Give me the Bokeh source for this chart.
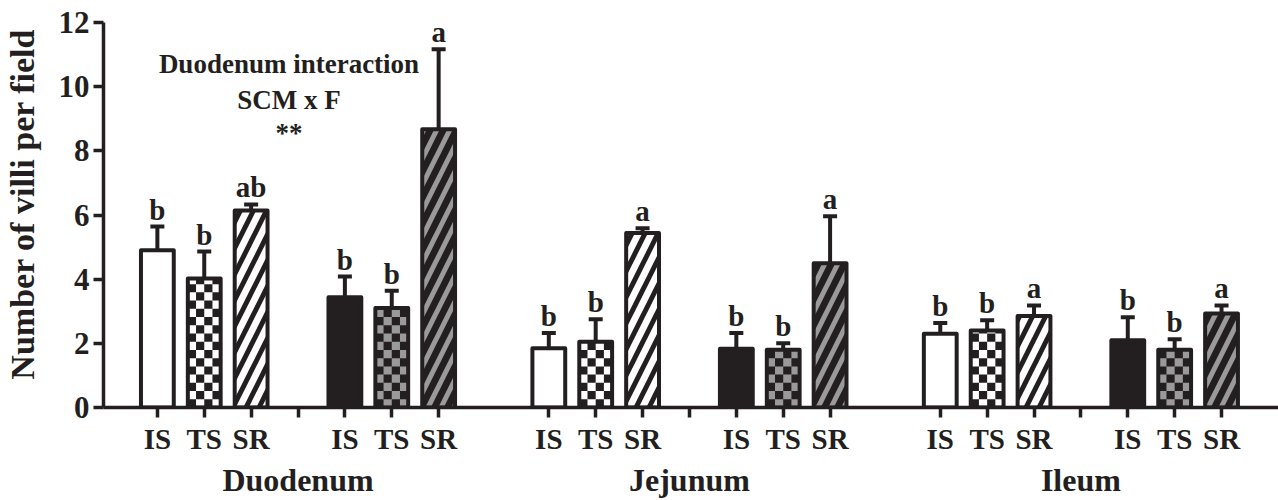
from bokeh.plotting import figure
from bokeh.models import Range1d, FixedTicker, LinearAxis, Whisker, ColumnDataSource, TeeHead
from bokeh.core.properties import value
from bokeh.embed import file_html
from bokeh.resources import INLINE

# ---------------- data ----------------
segments = ["Duodenum", "Jejunum", "Ileum"]
treatments = ["IS", "TS", "SR"]
# six bars per segment: IS, TS, SR (light set) then IS, TS, SR (dark set)
duodenum_mean = [4.90, 4.02, 6.14, 3.44, 3.10, 8.67]
duodenum_err = [0.74, 0.84, 0.19, 0.64, 0.54, 2.50]
jejunum_mean = [1.85, 2.05, 5.44, 1.83, 1.80, 4.50]
jejunum_err = [0.47, 0.70, 0.15, 0.49, 0.20, 1.46]
ileum_mean = [2.30, 2.40, 2.85, 2.10, 1.80, 2.93]
ileum_err = [0.33, 0.32, 0.33, 0.71, 0.33, 0.25]
duodenum_letters = ["b", "b", "ab", "b", "b", "a"]
jejunum_letters = ["b", "b", "a", "b", "b", "a"]
ileum_letters = ["b", "b", "a", "b", "b", "a"]
y_ticks = [0, 2, 4, 6, 8, 10, 12]
y_label = "Number of villi per field"
note_lines = ["Duodenum interaction", "SCM x F", "**"]
note_y = [10.7, 9.6, 8.55]

means = [duodenum_mean, jejunum_mean, ileum_mean]
errs = [duodenum_err, jejunum_err, ileum_err]
letters = [duodenum_letters, jejunum_letters, ileum_letters]

# ---------------- layout ----------------
DARK = "#231f20"
GREY = "#9a9a9a"
FONT = "Liberation Serif"
SLOT = 100
SEG = 835
slot_idx = [0, 1, 2, 4, 5, 6]
BW = 70
X0, X1 = -114.9, 2391.5
Y1 = 12.686
FRAME_W, FRAME_H = 1178, 407

xs, tops, uppers, labs, kinds = [], [], [], [], []
kind_cycle = ["white", "checker_w", "stripe_w", "black", "checker_g", "stripe_g"]
for g in range(3):
    for k in range(6):
        xs.append(g * SEG + slot_idx[k] * SLOT)
        tops.append(means[g][k])
        uppers.append(means[g][k] + errs[g][k])
        labs.append(letters[g][k])
        kinds.append(kind_cycle[k])

gap_ticks = [g * SEG + 3 * SLOT for g in range(3)]

p = figure(width=1278, height=500, output_backend="svg", toolbar_location=None,
           x_range=Range1d(X0, X1), y_range=Range1d(0, Y1),
           min_border_left=100, min_border_right=0, min_border_top=0, min_border_bottom=10)
p.outline_line_color = None
p.grid.visible = False
p.background_fill_color = "white"

# base bars
fill_map = {"white": "white", "checker_w": "white", "stripe_w": "white",
            "black": DARK, "checker_g": GREY, "stripe_g": DARK}
for kind in kind_cycle:
    sel = [i for i in range(len(xs)) if kinds[i] == kind]
    src = ColumnDataSource(dict(x=[xs[i] for i in sel], top=[tops[i] for i in sel]))
    kw = {}
    if kind == "stripe_w":
        kw = dict(hatch_pattern="right_diagonal_line", hatch_color=DARK, hatch_weight=5, hatch_scale=26)
    elif kind == "stripe_g":
        kw = dict(hatch_pattern="right_diagonal_line", hatch_color=GREY, hatch_weight=5, hatch_scale=26)
    p.vbar(x="x", top="top", bottom=0, width=BW, source=src, fill_color=fill_map[kind],
           line_color=None, **kw)

# checker cells (derived from bar values)
px_per_x = FRAME_W / (X1 - X0)
px_per_y = FRAME_H / Y1
ncols = 4
col_w = BW / ncols
row_h = col_w * px_per_x / px_per_y
cl, cr, cb, ct = [], [], [], []
for i in range(len(xs)):
    if kinds[i] not in ("checker_w", "checker_g"):
        continue
    left0 = xs[i] - BW / 2
    r = 0
    while r * row_h < tops[i]:
        for c in range(ncols):
            if (r + c) % 2 == 0:
                cl.append(left0 + c * col_w)
                cr.append(left0 + (c + 1) * col_w)
                cb.append(r * row_h)
                ct.append(min((r + 1) * row_h, tops[i]))
        r += 1
p.quad(left=cl, right=cr, bottom=cb, top=ct, fill_color=DARK, line_color=None)

# bar outlines
p.vbar(x=xs, top=tops, bottom=0, width=BW, fill_alpha=0, line_color=DARK,
       line_width=4, line_join="round")

# error bars
esrc = ColumnDataSource(dict(x=xs, lower=tops, upper=uppers, lab=labs))
p.add_layout(Whisker(base="x", lower="lower", upper="upper", source=esrc,
                     line_color=DARK, line_width=4,
                     upper_head=TeeHead(size=14, line_width=4, line_color=DARK),
                     lower_head=None))

# significance letters
p.text(x="x", y="upper", text="lab", source=esrc, text_font=value(FONT),
       text_font_style="bold", text_font_size="29px", text_color=DARK,
       text_align="center", text_baseline="alphabetic", y_offset=-17)

# interaction note
p.text(x=[gap_ticks[0]] * 3, y=note_y, text=note_lines, text_font=value(FONT),
       text_font_style="bold", text_font_size="27px", text_color=DARK,
       text_align="center", text_baseline="middle", x_offset=-9)

# y axis
ya = p.yaxis[0]
ya.ticker = FixedTicker(ticks=y_ticks)
ya.bounds = (0, 12)
ya.axis_label = y_label
ya.axis_label_text_font = FONT
ya.axis_label_text_font_style = "bold"
ya.axis_label_text_font_size = "34px"
ya.axis_label_text_color = DARK
ya.axis_label_standoff = 15
ya.major_label_text_font = FONT
ya.major_label_text_font_style = "bold"
ya.major_label_text_font_size = "31px"
ya.major_label_text_color = DARK
ya.major_label_standoff = 4
ya.axis_line_width = 3.5
ya.axis_line_color = DARK
ya.major_tick_line_width = 3.5
ya.major_tick_line_color = DARK
ya.major_tick_out = 10
ya.major_tick_in = 0
ya.minor_tick_line_color = None

# x axis (treatments)
xa = p.xaxis[0]
all_ticks = sorted(xs + gap_ticks)
overrides = {t: "" for t in gap_ticks}
for t in xs:
    overrides[t] = treatments[slot_idx.index((t % SEG) // SLOT) % 3]
xa.ticker = FixedTicker(ticks=all_ticks)
xa.major_label_overrides = overrides
xa.major_label_text_font = FONT
xa.major_label_text_font_style = "bold"
xa.major_label_text_font_size = "29px"
xa.major_label_text_color = DARK
xa.major_label_standoff = 5
xa.axis_line_width = 3.5
xa.axis_line_color = DARK
xa.major_tick_line_width = 3.5
xa.major_tick_line_color = DARK
xa.major_tick_out = 10
xa.major_tick_in = 0
xa.minor_tick_line_color = None

# x axis (segments)
ga = LinearAxis(ticker=FixedTicker(ticks=gap_ticks),
                major_label_overrides={t: s for t, s in zip(gap_ticks, segments)})
ga.axis_line_color = None
ga.major_tick_line_color = None
ga.minor_tick_line_color = None
ga.major_tick_out = 0
ga.major_label_standoff = 4
ga.major_label_text_font = FONT
ga.major_label_text_font_style = "bold"
ga.major_label_text_font_size = "32px"
ga.major_label_text_color = DARK
p.add_layout(ga, "below")

open("out.html", "w").write(file_html(p, INLINE))
